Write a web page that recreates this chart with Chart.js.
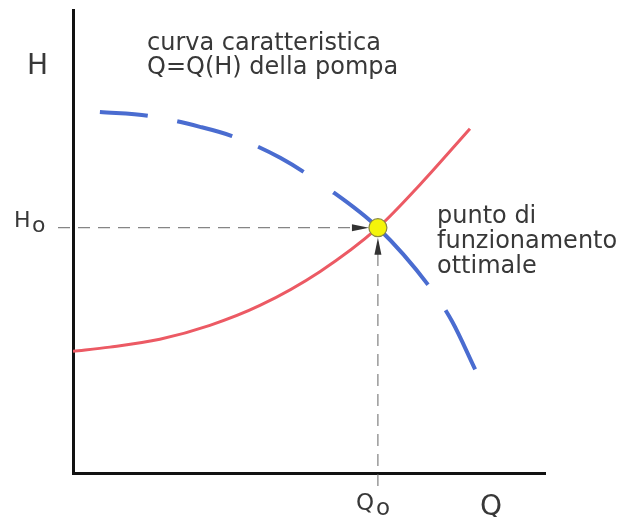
<!DOCTYPE html>
<html>
<head>
<meta charset="utf-8">
<script src="https://cdn.jsdelivr.net/npm/chart.js@4"></script>
<style>
  html, body { margin: 0; padding: 0; background: #fff; }
  #wrap { width: 621px; height: 517px; }
</style>
</head>
<body>
<div id="wrap"><canvas id="chart"></canvas></div>
<script>
// curve data, in axis units (0..100 on both axes)
const pumpQ = [5.7, 15.9, 26.9, 33.7, 43.9, 54.4, 64.6, 75.2, 80.3, 85.2];
const pumpH = [78.0, 77.2, 74.8, 72.8, 68.1, 61.2, 53.0, 40.7, 32.8, 22.4];

const systemQ = [0, 7.8, 18.4, 29.0, 39.6, 52.3, 64.6, 73.5, 84.1];
const systemH = [26.3, 27.2, 28.9, 31.9, 36.2, 43.5, 53.0, 62.3, 74.4];

// operating point
const Q0 = 64.6;
const H0 = 53.0;

function toPoints(xs, ys) {
    return xs.map((x, i) => ({ x: x, y: ys[i] }));
}

const textColor = '#383838';
const font = '"DejaVu Sans", Verdana, sans-serif';

// guide lines, arrowheads and text labels
const annotations = {
    id: 'annotations',
    beforeDatasetsDraw(chart) {
        const ctx = chart.ctx;
        const xs = chart.scales.x, ys = chart.scales.y;
        const px = xs.getPixelForValue(Q0);
        const py = ys.getPixelForValue(H0);
        ctx.save();
        ctx.strokeStyle = '#666';
        ctx.lineWidth = 1;
        ctx.setLineDash([12, 8]);
        ctx.beginPath();
        ctx.moveTo(xs.left - 15, py);
        ctx.lineTo(px - 14, py);
        ctx.moveTo(px, ys.bottom + 13);
        ctx.lineTo(px, py + 14);
        ctx.stroke();
        ctx.setLineDash([]);
        // arrowheads
        ctx.fillStyle = '#333';
        ctx.beginPath();
        ctx.moveTo(px - 9, py);
        ctx.lineTo(px - 26, py - 3.5);
        ctx.lineTo(px - 26, py + 3.5);
        ctx.closePath();
        ctx.fill();
        ctx.beginPath();
        ctx.moveTo(px, py + 10);
        ctx.lineTo(px - 3.5, py + 27);
        ctx.lineTo(px + 3.5, py + 27);
        ctx.closePath();
        ctx.fill();
        ctx.restore();
    },
    afterDraw(chart) {
        const ctx = chart.ctx;
        const xs = chart.scales.x, ys = chart.scales.y;
        const px = xs.getPixelForValue(Q0);
        const py = ys.getPixelForValue(H0);
        ctx.save();
        ctx.fillStyle = textColor;
        ctx.textBaseline = 'alphabetic';
        ctx.textAlign = 'left';

        ctx.font = '28px ' + font;
        ctx.fillText('H', 27, 74);
        ctx.fillText('Q', 480, 515);

        ctx.font = '22px ' + font;
        ctx.fillText('H', 14, py - 1);
        ctx.fillText('o', 32, py + 4);

        ctx.font = '23px ' + font;
        ctx.fillText('Q', px - 22, 510);
        ctx.fillText('o', px - 2, 515);

        ctx.font = '24px ' + font;
        ctx.fillText('curva caratteristica', 147, 50);
        ctx.fillText('Q=Q(H) della pompa', 147, 74);

        ctx.fillText('punto di', 437, 223);
        ctx.fillText('funzionamento', 437, 248);
        ctx.fillText('ottimale', 437, 273);
        ctx.restore();
    }
};

new Chart(document.getElementById('chart'), {
    type: 'scatter',
    data: {
        datasets: [
            {
                label: 'punto',
                data: [{ x: Q0, y: H0 }],
                pointRadius: 9,
                pointBackgroundColor: '#f4f40a',
                pointBorderColor: '#8a8a40',
                pointBorderWidth: 1.2,
                order: 0
            },
            {
                label: 'pompa',
                data: toPoints(pumpQ, pumpH),
                showLine: true,
                borderColor: '#4a6cd0',
                borderWidth: 4,
                // hand-drawn dashes of uneven length
                borderDash: [48, 30, 57, 28, 52, 36, 133, 31, 90, 20],
                cubicInterpolationMode: 'monotone',
                pointRadius: 0,
                order: 2
            },
            {
                label: 'impianto',
                data: toPoints(systemQ, systemH),
                showLine: true,
                borderColor: '#ec5a64',
                borderWidth: 3,
                cubicInterpolationMode: 'monotone',
                pointRadius: 0,
                order: 1
            }
        ]
    },
    options: {
        responsive: true,
        maintainAspectRatio: false,
        animation: false,
        layout: { padding: { left: 65, right: 76, top: 8, bottom: 36 } },
        plugins: {
            legend: { display: false },
            tooltip: { enabled: false }
        },
        scales: {
            x: {
                min: 0, max: 100,
                grid: { display: false },
                ticks: { display: false },
                border: { display: true, color: '#111', width: 3 }
            },
            y: {
                min: 0, max: 100,
                grid: { display: false },
                ticks: { display: false },
                border: { display: true, color: '#111', width: 3 }
            }
        }
    },
    plugins: [annotations]
});
</script>
</body>
</html>
